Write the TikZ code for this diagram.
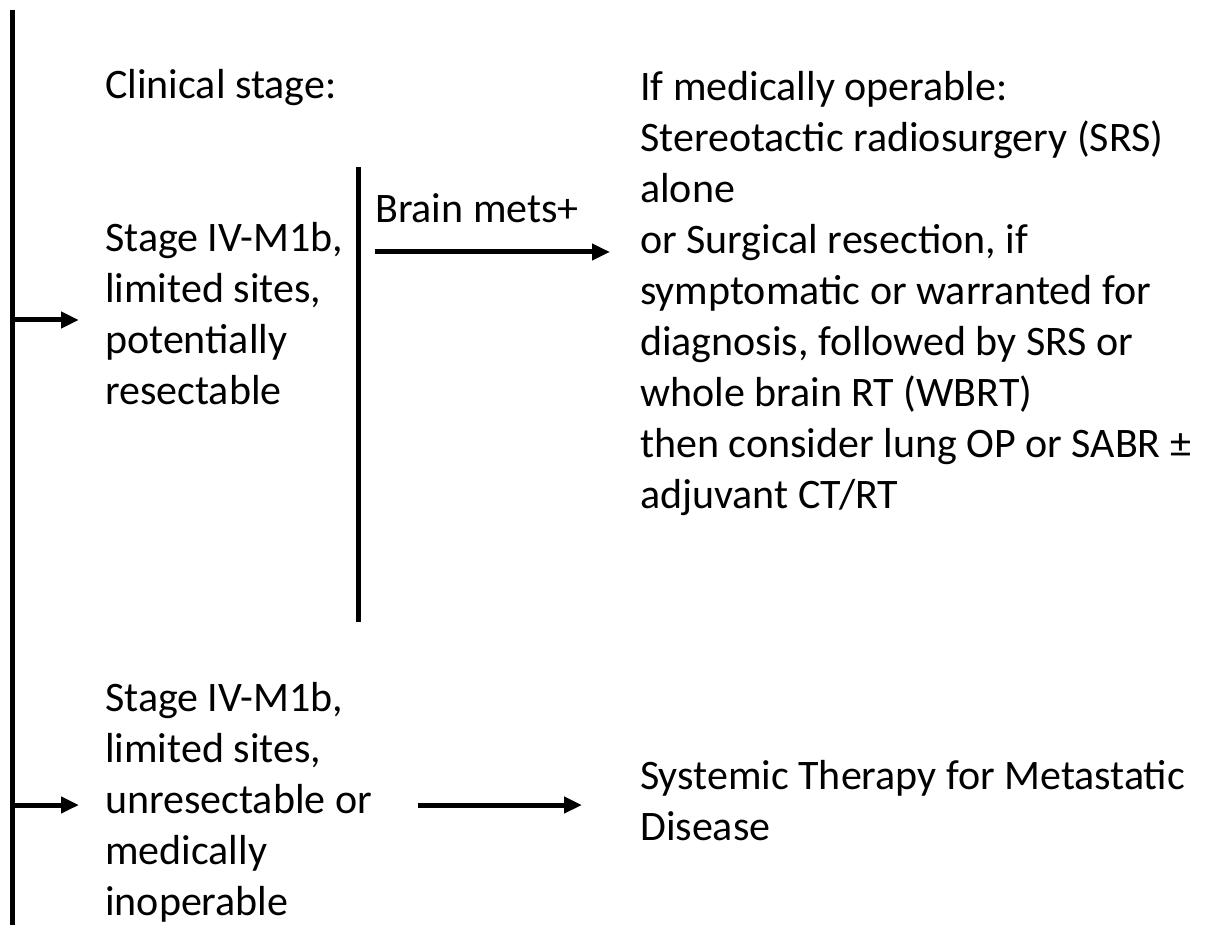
\documentclass[tikz,border=0pt]{standalone}
\usepackage{fontspec}
\setmainfont{Carlito}
\usetikzlibrary{arrows.meta}
\tikzset{
  txt/.style={anchor=base west, inner sep=0pt, align=left, font=\fontsize{42}{51}\selectfont},
  bar/.style={line width=5pt},
  arr/.style={line width=5pt, -{Triangle[length=18pt,width=16pt]}}
}
\begin{document}
\begin{tikzpicture}[x=1pt,y=-1pt]
\useasboundingbox (0,0) rectangle (1205,925);
% main vertical bar
\coordinate (mtop) at (12,10);
\coordinate (mbot) at (12,925);
\draw[bar] (mtop) -- (mbot);
% text nodes (anchored at the baseline of their last line)
\node[txt] (clin) at (105,99) {Clinical stage:};
\node[txt] (s1) at (105,404) {Stage IV-M1b,\\limited sites,\\potentially\\resectable};
\node[txt] (s2) at (105,915) {Stage IV-M1b,\\limited sites,\\unresectable or\\medically\\inoperable};
\node[txt] (r1) at (640,508) {If medically operable:\\Stereotactic radiosurgery (SRS)\\alone\\or Surgical resection, if\\symptomatic or warranted for\\diagnosis, followed by SRS or\\whole brain RT (WBRT)\\then consider lung OP or SABR \textpm\\adjuvant CT/RT};
\node[txt] (r2) at (640,840) {Systemic Therapy for Metastatic\\Disease};
\node[txt] (bm) at (375,223) {Brain mets+};
% connector end points
\coordinate (a1s) at (12,320);
\coordinate (a1e) at (79,320);
\coordinate (a2s) at (12,805);
\coordinate (a2e) at (79,805);
\coordinate (vtop) at (358,167);
\coordinate (vbot) at (358,622);
\coordinate (b1s) at (375,252);
\coordinate (b1e) at (610,252);
\coordinate (c1s) at (418,805);
\coordinate (c1e) at (582,805);
\draw[arr] (a1s) -- (a1e);
\draw[arr] (a2s) -- (a2e);
\draw[bar] (vtop) -- (vbot);
\draw[arr] (b1s) -- (b1e);
\draw[arr] (c1s) -- (c1e);
\end{tikzpicture}
\end{document}
